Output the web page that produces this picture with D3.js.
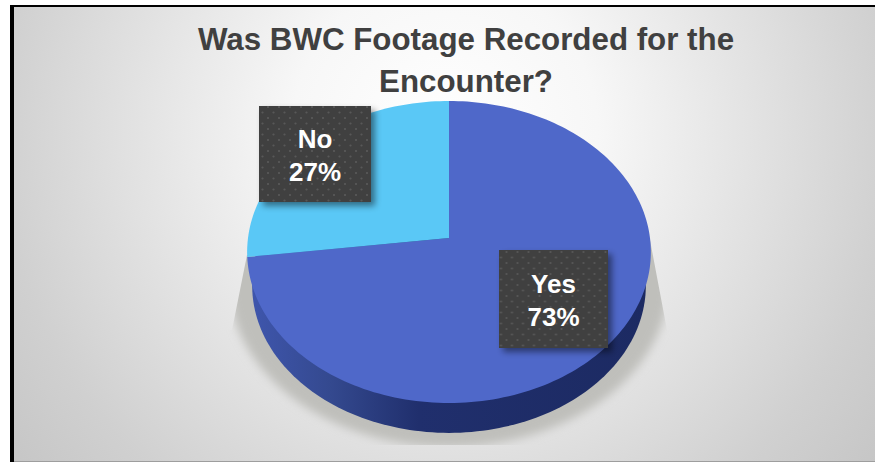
<!DOCTYPE html>
<html>
<head>
<meta charset="utf-8">
<script src="https://cdnjs.cloudflare.com/ajax/libs/d3/7.8.5/d3.min.js"></script>
<style>
  html, body { margin: 0; padding: 0; background: #fff; overflow: hidden; }
  svg { display: block; }
  text { font-family: "Liberation Sans", Arial, sans-serif; font-weight: bold; }
</style>
</head>
<body>
<div id="chart"></div>
<script>
const titleLines = ["Was BWC Footage Recorded for the", "Encounter?"];
const categories = ["Yes", "No"];
const percents = [73, 27];

const w = 875;
const h = 462;

// pie seen in perspective, so the hub is above the middle of the ellipse
const cx = 449, cy = 238;
const rx = 201, ryTop = 137, ryBottom = 165;
const tilt = (ryBottom - ryTop) / (ryBottom + ryTop);
const ry = ryTop * (1 + tilt);

const sliceColors = { Yes: "#4f68c9", No: "#5ac8f6" };
// centre and size of each label box
const labelLayout = {
  Yes: { x: 553.5, y: 299, w: 109, h: 98 },
  No: { x: 315, y: 154, w: 112, h: 96 }
};

function project(a, scale, dy) {
  const u = Math.sin(a), v = -Math.cos(a), d = 1 - tilt * v;
  return [cx + scale * rx * u / d, cy + dy + scale * ry * v / d];
}

const line = d3.line();

function arcPath(a0, a1) {
  const n = Math.max(2, Math.ceil((a1 - a0) * 40));
  const pts = d3.range(n + 1).map(i => project(a0 + (a1 - a0) * i / n, 1, 0));
  return line([[cx, cy], ...pts]) + "Z";
}

function ringPath(scale, dy) {
  return line(d3.range(240).map(i => project(i / 240 * 2 * Math.PI, scale, dy))) + "Z";
}

const svg = d3.select("#chart").append("svg").attr("width", w).attr("height", h);
const defs = svg.append("defs");

const bg = defs.append("radialGradient").attr("id", "bg")
  .attr("gradientUnits", "userSpaceOnUse")
  .attr("cx", 445).attr("cy", 130).attr("r", 545);
[[0, "#ffffff"], [0.28, "#f7f7f7"], [0.6, "#e0e0e0"], [0.82, "#d0d0d0"], [1, "#c6c6c6"]].forEach(s =>
  bg.append("stop").attr("offset", s[0]).attr("stop-color", s[1]));

const wall = defs.append("linearGradient").attr("id", "wall")
  .attr("gradientUnits", "userSpaceOnUse")
  .attr("x1", 250).attr("x2", 651).attr("y1", 0).attr("y2", 0);
[[0, "#3f56ad"], [0.2, "#34498f"], [0.42, "#202f6d"], [1, "#1c2a62"]].forEach(s =>
  wall.append("stop").attr("offset", s[0]).attr("stop-color", s[1]));

defs.append("filter").attr("id", "blur").attr("x", "-10%").attr("y", "-10%").attr("width", "120%").attr("height", "120%")
  .append("feGaussianBlur").attr("stdDeviation", 5);

// shadow wings run out from the widest points of the pie, and stop short of the slide bottom
defs.append("clipPath").attr("id", "shadowClip")
  .append("polygon")
  .attr("points", "247,255 232,330 150,330 150,445 750,445 750,330 667,330 650,240");

const drop = defs.append("filter").attr("id", "drop").attr("x", "-20%").attr("y", "-20%").attr("width", "150%").attr("height", "150%");
drop.append("feDropShadow").attr("dx", 4).attr("dy", 4).attr("stdDeviation", 3)
  .attr("flood-color", "#000").attr("flood-opacity", 0.45);

const dots = defs.append("pattern").attr("id", "dots").attr("patternUnits", "userSpaceOnUse")
  .attr("width", 11).attr("height", 11);
dots.append("rect").attr("width", 11).attr("height", 11).attr("fill", "#404040");
[[2.5, 2.5], [8, 8]].forEach(p =>
  dots.append("circle").attr("cx", p[0]).attr("cy", p[1]).attr("r", 1.1).attr("fill", "#595959"));

// frame
svg.append("rect").attr("x", 10).attr("y", 5).attr("width", w - 10).attr("height", 457).attr("fill", "#000");
svg.append("rect").attr("x", 14).attr("y", 7).attr("width", w - 14).attr("height", 454).attr("fill", "url(#bg)");
svg.append("rect").attr("x", 14).attr("y", 461).attr("width", w - 14).attr("height", 1).attr("fill", "#9e9e9e");

// title
svg.selectAll(".title").data(titleLines).enter().append("text")
  .attr("class", "title")
  .attr("x", 466)
  .attr("y", (d, i) => 50 + i * 42)
  .attr("text-anchor", "middle")
  .attr("font-size", 31.3)
  .attr("fill", "#404040")
  .text(d => d);

// floor shadow
svg.append("g").attr("clip-path", "url(#shadowClip)")
  .append("path")
  .attr("d", ringPath(1.09, 29))
  .attr("fill", "#bfbfbb")
  .attr("filter", "url(#blur)");

// side of the pie
svg.append("path").attr("d", ringPath(0.975, 34)).attr("fill", "url(#wall)");

// top of the pie
const pie = d3.pie().sort(null).value(d => d)(percents);

svg.selectAll(".slice").data(pie).enter().append("path")
  .attr("class", "slice")
  .attr("d", d => arcPath(d.startAngle, d.endAngle))
  .attr("fill", (d, i) => sliceColors[categories[i]]);

// data labels
const labels = svg.selectAll(".label").data(pie).enter().append("g")
  .attr("class", "label")
  .attr("transform", (d, i) => {
    const b = labelLayout[categories[i]];
    return `translate(${b.x},${b.y})`;
  });

labels.append("rect")
  .attr("x", (d, i) => -labelLayout[categories[i]].w / 2)
  .attr("y", (d, i) => -labelLayout[categories[i]].h / 2)
  .attr("width", (d, i) => labelLayout[categories[i]].w)
  .attr("height", (d, i) => labelLayout[categories[i]].h)
  .attr("fill", "url(#dots)")
  .attr("filter", "url(#drop)");

labels.append("text")
  .attr("text-anchor", "middle").attr("font-size", 26).attr("fill", "#fff")
  .attr("y", -6)
  .text((d, i) => categories[i]);

labels.append("text")
  .attr("text-anchor", "middle").attr("font-size", 26).attr("fill", "#fff")
  .attr("y", 27)
  .text((d, i) => percents[i] + "%");
</script>
</body>
</html>
